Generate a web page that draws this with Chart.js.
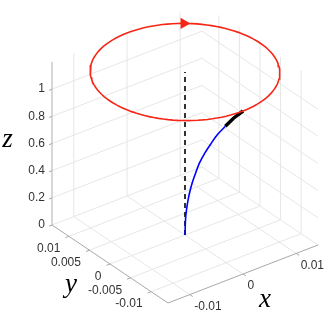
<!DOCTYPE html>
<html>
<head>
<meta charset="utf-8">
<script src="https://cdn.jsdelivr.net/npm/chart.js@4.4.0/dist/chart.umd.min.js"></script>
<style>
  html, body { margin: 0; padding: 0; background: #fff; }
  #caja { width: 332px; height: 317px; }
</style>
</head>
<body>
<div id="caja"><canvas id="grafico" width="332" height="317"></canvas></div>
<script>
// limites y marcas de los ejes
const limX = [-0.0141, 0.0141];
const limY = [-0.0141, 0.0141];
const limZ = [0, 1.2];
const ticksX = [-0.01, 0, 0.01];
const ticksY = [-0.01, -0.005, 0, 0.005, 0.01];
const ticksZ = [0, 0.2, 0.4, 0.6, 0.8, 1];
const etiquetasX = ['-0.01', '0', '0.01'];
const etiquetasY = ['-0.01', '-0.005', '0', '0.005', '0.01'];
const etiquetasZ = ['0', '0.2', '0.4', '0.6', '0.8', '1'];

// trayectoria en el plano x = 0 (azul) y tramo final (negro)
const trayZ = [0, 0.1, 0.2, 0.3, 0.4, 0.5, 0.6, 0.7, 0.8, 0.9, 1.0];
const trayY = [0, -0.0001, -0.0004, -0.0009, -0.0016, -0.0025, -0.0035, -0.0048, -0.0063, -0.0079, -0.0098];
const tramoZ = [1.0, 1.1, 1.2];
const tramoY = [-0.0098, -0.0118, -0.0141];

// eje vertical discontinuo
const ejeZ = [0, 1.2];

// circulo rojo
const radioCirculo = 0.0141;
const alturaCirculo = 1.2;
const flechaAngulo = 53;

// colocacion de la caja en pantalla: esquina delantera inferior y aristas
const esquina = { x: 168, y: 303 };
const aristaX = { x: 150, y: -58 };
const aristaY = { x: -116, y: -78 };
const aristaZ = { x: 0, y: -163 };

function proyectar(x, y, z) {
  const fx = (x - limX[0]) / (limX[1] - limX[0]);
  const fy = (y - limY[0]) / (limY[1] - limY[0]);
  const fz = (z - limZ[0]) / (limZ[1] - limZ[0]);
  return {
    x: esquina.x + fx * aristaX.x + fy * aristaY.x + fz * aristaZ.x,
    y: esquina.y + fx * aristaX.y + fy * aristaY.y + fz * aristaZ.y
  };
}

const circulo = [];
for (let g = 0; g <= 360; g += 3) {
  const t = g * Math.PI / 180;
  circulo.push(proyectar(radioCirculo * Math.cos(t), radioCirculo * Math.sin(t), alturaCirculo));
}
const fa = flechaAngulo * Math.PI / 180;
const flecha = [proyectar(radioCirculo * Math.cos(fa), radioCirculo * Math.sin(fa), alturaCirculo)];

const rojo = 'rgb(245,38,22)';

const cajaPlugin = {
  id: 'caja3d',
  beforeDatasetsDraw(chart) {
    const c = chart.ctx;
    const sx = chart.scales.x, sy = chart.scales.y;
    const px = p => [sx.getPixelForValue(p.x), sy.getPixelForValue(p.y)];
    function linea(a, b, color, w) {
      const p1 = px(a), p2 = px(b);
      c.beginPath();
      c.moveTo(p1[0], p1[1]);
      c.lineTo(p2[0], p2[1]);
      c.strokeStyle = color;
      c.lineWidth = w;
      c.stroke();
    }
    c.save();
    const gris = '#e6e6e6';
    // suelo
    ticksX.forEach(x => linea(proyectar(x, limY[0], 0), proyectar(x, limY[1], 0), gris, 1));
    ticksY.forEach(y => linea(proyectar(limX[0], y, 0), proyectar(limX[1], y, 0), gris, 1));
    // pared y = max
    ticksX.forEach(x => linea(proyectar(x, limY[1], 0), proyectar(x, limY[1], limZ[1]), gris, 1));
    ticksZ.forEach(z => linea(proyectar(limX[0], limY[1], z), proyectar(limX[1], limY[1], z), gris, 1));
    // pared x = max
    ticksY.forEach(y => linea(proyectar(limX[1], y, 0), proyectar(limX[1], y, limZ[1]), gris, 1));
    ticksZ.forEach(z => linea(proyectar(limX[1], limY[0], z), proyectar(limX[1], limY[1], z), gris, 1));

    // ejes
    const colorEje = '#a8a8a8';
    linea(proyectar(limX[0], limY[1], limZ[0]), proyectar(limX[0], limY[1], limZ[1]), '#bdbdbd', 1.2);
    linea(proyectar(limX[0], limY[1], 0), proyectar(limX[0], limY[0], 0), colorEje, 1);
    linea(proyectar(limX[0], limY[0], 0), proyectar(limX[1], limY[0], 0), colorEje, 1);

    c.font = '12px "Liberation Sans", Arial, sans-serif';
    c.fillStyle = '#333333';
    // eje z
    c.textAlign = 'right';
    c.textBaseline = 'middle';
    ticksZ.forEach((z, i) => {
      const p = px(proyectar(limX[0], limY[1], z));
      c.beginPath(); c.moveTo(p[0], p[1]); c.lineTo(p[0] - 3, p[1] + 1.2);
      c.strokeStyle = colorEje; c.lineWidth = 1; c.stroke();
      c.fillText(etiquetasZ[i], p[0] - 7, p[1]);
    });
    // eje y
    ticksY.forEach((y, i) => {
      const p = px(proyectar(limX[0], y, 0));
      c.beginPath(); c.moveTo(p[0], p[1]); c.lineTo(p[0] - 3.5, p[1] + 1.4);
      c.strokeStyle = colorEje; c.stroke();
      c.fillText(etiquetasY[i], p[0] - 8.5, p[1] + 12.5);
    });
    // eje x
    c.textAlign = 'left';
    ticksX.forEach((x, i) => {
      const p = px(proyectar(x, limY[0], 0));
      c.beginPath(); c.moveTo(p[0], p[1]); c.lineTo(p[0] + 3, p[1] + 2);
      c.strokeStyle = colorEje; c.stroke();
      c.fillText(etiquetasX[i], p[0] + 4.5, p[1] + 12);
    });

    // titulos de los ejes
    c.font = 'italic 27px "Liberation Serif", "DejaVu Serif", serif';
    c.fillStyle = '#000';
    c.textAlign = 'center';
    c.textBaseline = 'alphabetic';
    c.fillText('z', 7.5, 147);
    c.fillText('y', 71, 292);
    c.fillText('x', 265, 307);
    c.restore();
  }
};

const contexto = document.getElementById('grafico').getContext('2d');
const grafico = new Chart(contexto, {
  type: 'scatter',
  data: {
    datasets: [
      {
        data: flecha, order: 0, pointStyle: 'triangle', rotation: 90,
        pointRadius: 6.5, backgroundColor: rojo, borderColor: rojo, borderWidth: 0
      },
      {
        data: circulo, order: 1, showLine: true, borderColor: rojo,
        borderWidth: 1.6, pointRadius: 0
      },
      {
        data: tramoZ.map((z, i) => proyectar(0, tramoY[i], z)), order: 2, showLine: true,
        borderColor: '#000', borderWidth: 3.5, pointRadius: 0, borderCapStyle: 'butt'
      },
      {
        data: trayZ.map((z, i) => proyectar(0, trayY[i], z)), order: 3, showLine: true,
        borderColor: '#0000ff', borderWidth: 1.6, pointRadius: 0, cubicInterpolationMode: 'monotone'
      },
      {
        data: ejeZ.map(z => proyectar(0, 0, z)), order: 4, showLine: true,
        borderColor: '#000', borderWidth: 1.6, borderDash: [5, 4], pointRadius: 0
      }
    ]
  },
  options: {
    responsive: false,
    animation: false,
    events: [],
    layout: { padding: 0, autoPadding: false },
    plugins: { legend: { display: false }, tooltip: { enabled: false } },
    scales: {
      x: { type: 'linear', display: false, min: 0, max: 332 },
      y: { type: 'linear', display: false, min: 0, max: 317, reverse: true }
    }
  },
  plugins: [cajaPlugin]
});
</script>
</body>
</html>
